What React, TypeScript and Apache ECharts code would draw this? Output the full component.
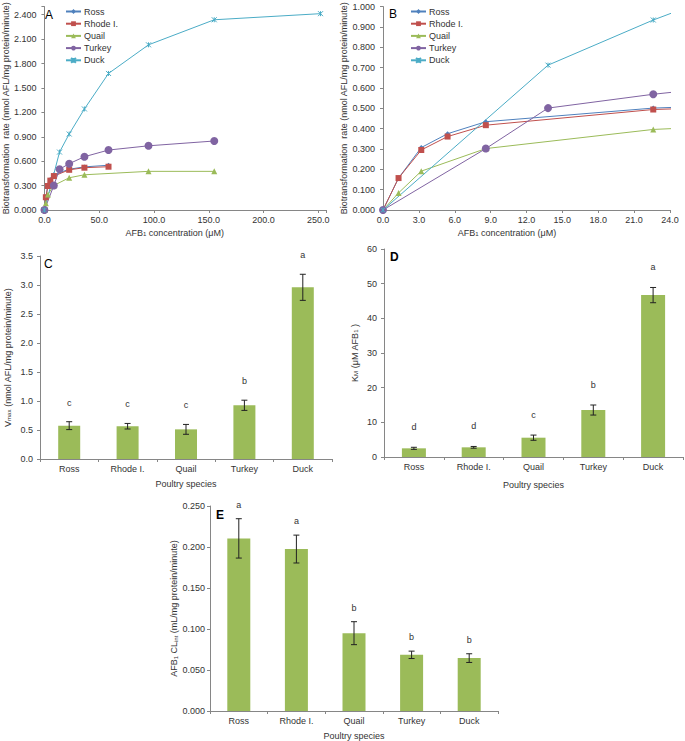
import React, { useEffect, useRef } from "react";
import * as echarts from "echarts";

const FONT = "'Liberation Sans', Arial, sans-serif";

// Panel A / B: biotransformation rate vs AFB1 concentration
const speciesNames = ["Ross", "Rhode I.", "Quail", "Turkey", "Duck"];
const rossConc = [0, 1.3, 3.2, 5.4, 8.6, 22.6, 36.5, 58.5];
const rossRate = [0, 0.157, 0.307, 0.375, 0.434, 0.501, 0.53, 0.55];
const rhodeConc = [0, 1.3, 3.2, 5.4, 8.6, 22.6, 36.5, 58.5];
const rhodeRate = [0, 0.157, 0.295, 0.361, 0.417, 0.494, 0.52, 0.532];
const quailConc = [0, 1.3, 3.2, 8.6, 22.6, 36.5, 95, 155];
const quailRate = [0, 0.084, 0.191, 0.302, 0.396, 0.433, 0.475, 0.475];
const turkeyConc = [0, 8.6, 13.8, 22.6, 36.5, 58.5, 95, 155];
const turkeyRate = [0, 0.302, 0.501, 0.569, 0.655, 0.737, 0.789, 0.848];
const duckConc = [0, 13.8, 22.6, 36.5, 58.5, 95, 155, 252];
const duckRate = [0, 0.712, 0.934, 1.242, 1.678, 2.03, 2.338, 2.413];

// Panels C, D, E
const categories = ["Ross", "Rhode I.", "Quail", "Turkey", "Duck"];
const vmax = [0.575, 0.565, 0.511, 0.926, 2.96];
const vmaxErr = [0.068, 0.048, 0.085, 0.088, 0.225];
const vmaxLetters = ["c", "c", "c", "b", "a"];
const km = [2.5, 2.79, 5.57, 13.55, 46.7];
const kmErr = [0.3, 0.25, 0.75, 1.45, 2.2];
const kmLetters = ["d", "d", "c", "b", "a"];
const clint = [0.2105, 0.1975, 0.0949, 0.0685, 0.0645];
const clintErr = [0.024, 0.017, 0.014, 0.0045, 0.0053];
const clintLetters = ["a", "a", "b", "b", "b"];

const seriesColors = ["#4F81BD", "#C0504D", "#9BBB59", "#8064A2", "#4BACC6"];
const BAR = "#9BBB59";
const AXIS = "#868686";
const TXT = "#333333";

const zip = (xs: number[], ys: number[]) => xs.map((x, i) => [x, ys[i]]);
const lineSets = [
  zip(rossConc, rossRate),
  zip(rhodeConc, rhodeRate),
  zip(quailConc, quailRate),
  zip(turkeyConc, turkeyRate),
  zip(duckConc, duckRate),
];
const symbols = [
  "diamond",
  "rect",
  "triangle",
  "circle",
  "path://M0,0L10,10M10,0L0,10M5,0L5,10",
];
const symbolSizes = [5, 6, 6, 8, 5];

const rich = {
  sub: { fontSize: 6, verticalAlign: "bottom", color: TXT, fontFamily: FONT },
};
const nameStyle = { fontSize: 9, color: TXT, fontFamily: FONT, rich };
const axisLine = { show: true, lineStyle: { color: AXIS, width: 1 } };
const axisTick = { show: true, length: 3, lineStyle: { color: AXIS, width: 1 } };
const labelBase = { fontSize: 9, color: TXT, fontFamily: FONT };

const onStep = (v: number, step: number) =>
  Math.abs(v / step - Math.round(v / step)) < 1e-6;

function valueAxis(grid: number, min: number, max: number, interval: number, digits: number, extra: any) {
  return {
    type: "value",
    gridIndex: grid,
    min,
    max,
    interval,
    axisLine,
    axisTick,
    splitLine: { show: false },
    axisLabel: {
      ...labelBase,
      formatter: (v: number) => (onStep(v, interval) ? v.toFixed(digits) : ""),
    },
    nameTextStyle: nameStyle,
    nameLocation: "middle",
    ...extra,
  };
}

function catAxis(grid: number, extra: any) {
  return {
    type: "category",
    gridIndex: grid,
    data: categories,
    axisLine,
    axisTick: { ...axisTick, alignWithLabel: false },
    axisLabel: { ...labelBase, margin: 5 },
    nameTextStyle: nameStyle,
    nameLocation: "middle",
    name: "Poultry species",
    ...extra,
  };
}

function errRender(letters: string[], offset: number) {
  return (params: any, api: any) => {
    const i = params.dataIndex;
    const x = api.value(0);
    const m = api.value(1);
    const e = api.value(2);
    const t = api.coord([x, m + e]);
    const b = api.coord([x, m - e]);
    const cx = t[0];
    const st = { stroke: "#222", lineWidth: 1 };
    return {
      type: "group",
      children: [
        { type: "line", shape: { x1: cx, y1: t[1], x2: cx, y2: b[1] }, style: st },
        { type: "line", shape: { x1: cx - 3, y1: t[1], x2: cx + 3, y2: t[1] }, style: st },
        { type: "line", shape: { x1: cx - 3, y1: b[1], x2: cx + 3, y2: b[1] }, style: st },
        {
          type: "text",
          x: cx,
          y: t[1] - offset,
          style: {
            text: letters[i],
            fill: TXT,
            fontSize: 9,
            fontFamily: FONT,
            align: "center",
            verticalAlign: "middle",
          },
        },
      ],
    };
  };
}

function barSet(idx: number, vals: number[], errs: number[], letters: string[], width: number, offset: number) {
  return [
    {
      type: "bar",
      xAxisIndex: idx,
      yAxisIndex: idx,
      data: vals,
      barWidth: width,
      itemStyle: { color: BAR },
      silent: true,
    },
    {
      type: "custom",
      xAxisIndex: idx,
      yAxisIndex: idx,
      clip: false,
      silent: true,
      encode: { x: 0, y: 1 },
      data: vals.map((v, i) => [i, v, errs[i]]),
      renderItem: errRender(letters, offset),
      z: 5,
    },
  ];
}

function lineSeries(grid: number) {
  return speciesNames.map((name, i) => ({
    type: "line",
    name,
    xAxisIndex: grid,
    yAxisIndex: grid,
    data: lineSets[i],
    symbol: symbols[i],
    symbolSize: symbolSizes[i],
    showSymbol: true,
    lineStyle: { color: seriesColors[i], width: 1 },
    itemStyle: {
      color: seriesColors[i],
      borderColor: seriesColors[i],
      borderWidth: i === 4 ? 1 : 0,
    },
    emphasis: { disabled: true },
    clip: true,
  }));
}

const legendBase = {
  orient: "vertical",
  top: 2,
  itemWidth: 15,
  itemHeight: 6,
  itemGap: 3.2,
  selectedMode: false,
  textStyle: { fontSize: 9, color: TXT, fontFamily: FONT, padding: [0, 0, 0, -2] },
  data: speciesNames,
};

const option: any = {
  animation: false,
  backgroundColor: "#ffffff",
  textStyle: { fontFamily: FONT },
  grid: [
    { left: 39, top: 4, width: 287, height: 206 },
    { left: 383, top: 4, width: 287, height: 206 },
    { left: 40, top: 256, width: 292, height: 203 },
    { left: 384, top: 249, width: 299, height: 208 },
    { left: 210, top: 506, width: 288, height: 206 },
  ],
  legend: [
    { ...legendBase, left: 60 },
    { ...legendBase, left: 405 },
  ],
  xAxis: [
    valueAxis(0, 0, 257, 50, 1, {
      name: "AFB{sub|1} concentration (μM)",
      nameGap: 18,
      nameTextStyle: { ...nameStyle, padding: [0, 21, 0, 0] },
      axisLabel: {
        ...labelBase,
        margin: 5,
        formatter: (v: number) => (onStep(v, 50) ? v.toFixed(1) : ""),
      },
    }),
    valueAxis(1, 0, 24, 3, 1, {
      name: "AFB{sub|1} concentration (μM)",
      nameGap: 18,
      nameTextStyle: { ...nameStyle, padding: [0, 39, 0, 0] },
      axisLabel: {
        ...labelBase,
        margin: 5,
        formatter: (v: number) => (onStep(v, 3) ? v.toFixed(1) : ""),
      },
    }),
    catAxis(2, { nameGap: 20 }),
    catAxis(3, { nameGap: 23 }),
    catAxis(4, { nameGap: 20 }),
  ],
  yAxis: [
    valueAxis(0, 0, 2.5, 0.3, 3, {
      name: "Biotransformation  rate (nmol AFL/mg protein/minute)",
      nameGap: 28,
    }),
    valueAxis(1, 0, 1, 0.1, 3, {
      name: "Biotransformation  rate (nmol AFL/mg protein/minute)",
      nameGap: 30,
    }),
    valueAxis(2, 0, 3.5, 0.5, 1, {
      name: "V{sub|max} (nmol AFL/mg protein/minute)",
      nameGap: 28,
      axisLabel: {
        ...labelBase,
        margin: 7,
        formatter: (v: number) => v.toFixed(1),
      },
    }),
    valueAxis(3, 0, 60, 10, 0, {
      name: "K{sub|M} (μM AFB{sub|1} )",
      nameGap: 25,
      axisLabel: { ...labelBase, margin: 7, formatter: (v: number) => v.toFixed(0) },
    }),
    valueAxis(4, 0, 0.25, 0.05, 3, {
      name: "AFB{sub|1} CL{sub|int} (mL/mg protein/minute)",
      nameGap: 24,
      axisLabel: { ...labelBase, margin: 5, formatter: (v: number) => v.toFixed(3) },
    }),
  ],
  series: [
    ...lineSeries(0),
    ...lineSeries(1),
    ...barSet(2, vmax, vmaxErr, vmaxLetters, 22, 19),
    ...barSet(3, km, kmErr, kmLetters, 24, 20),
    ...barSet(4, clint, clintErr, clintLetters, 23, 14),
  ],
  graphic: [
    { type: "text", left: 45, top: 9, style: { text: "A", fontSize: 12, fill: "#000", fontFamily: FONT } },
    { type: "text", left: 389, top: 8, style: { text: "B", fontSize: 12, fill: "#000", fontFamily: FONT } },
    { type: "text", left: 44, top: 258, style: { text: "C", fontSize: 12, fill: "#000", fontFamily: FONT } },
    { type: "text", left: 390, top: 251, style: { text: "D", fontSize: 12, fontWeight: "bold", fill: "#000", fontFamily: FONT } },
    { type: "text", left: 216, top: 509, style: { text: "E", fontSize: 12, fontWeight: "bold", fill: "#000", fontFamily: FONT } },
  ],
};

export default function App() {
  const ref = useRef<HTMLDivElement | null>(null);
  useEffect(() => {
    if (!ref.current) return;
    const chart = echarts.init(ref.current, null, { renderer: "svg" });
    chart.setOption(option);
    return () => chart.dispose();
  }, []);
  return (
    <div
      ref={ref}
      style={{ position: "absolute", left: 0, top: 0, width: 685, height: 741, background: "#fff" }}
    />
  );
}
